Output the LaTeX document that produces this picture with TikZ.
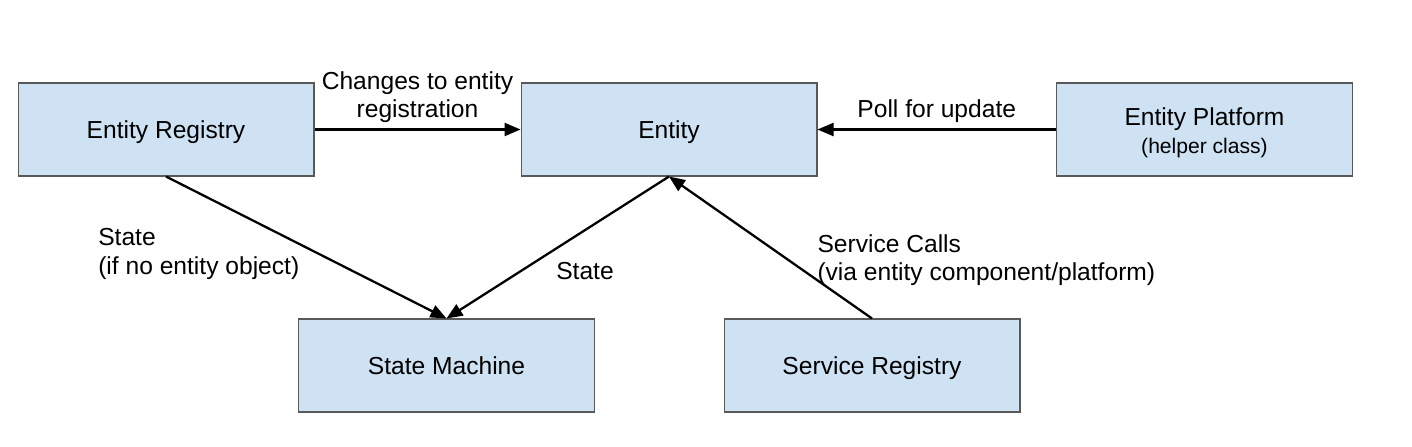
\documentclass[tikz,border=0pt]{standalone}
\usepackage{fontspec}
\setmainfont{Liberation Sans}
\usetikzlibrary{arrows.meta}
\definecolor{boxblue}{HTML}{CFE2F3}
\definecolor{boxline}{HTML}{595959}
\begin{document}
\begin{tikzpicture}[x=0.02cm, y=-0.02cm,
  box/.style={draw=boxline, line width=0.6pt, fill=boxblue, minimum width=5.92cm, minimum height=1.86cm, align=center, text height=10.8pt, text depth=0pt, font=\fontsize{14}{16}\selectfont},
  flow/.style={line width=1.3pt, -{Triangle[length=3.2mm,width=2.6mm]}},
  lbl/.style={font=\fontsize{14}{16}\selectfont}]
\useasboundingbox (0,0) rectangle (1412,446);
\node[box] (EntReg) at (166,129.5) {Entity Registry};
\node[box] (Ent) at (669,129.5) {Entity};
\node[box, text height=27.4pt, text depth=0pt] (EntPlat) at (1204.5,129.5) {Entity Platform\\{\fontsize{12}{14}\selectfont(helper class)}};
\node[box] (StateM) at (446.5,365.5) {State Machine};
\node[box] (ServReg) at (872,365.5) {Service Registry};
\draw[flow] (EntReg) -- (Ent) node[midway, above, lbl, align=center] (L_chg) {Changes to entity\\registration};
\draw[flow] (EntPlat) -- (Ent) node[midway, above, lbl] (L_poll) {Poll for update};
\draw[flow] (EntReg.south) -- (StateM.north) node[midway, left, lbl, align=left, yshift=-0.13cm] (L_reg) {State\\(if no entity object)};
\draw[flow] (Ent.south) -- (StateM.north) node[midway, below right, lbl, xshift=-0.17cm, yshift=-0.16cm] (L_state) {State};
\draw[flow] (ServReg.north) -- (Ent.south) node[midway, right, lbl, align=left, xshift=0.8cm, yshift=-0.26cm] (L_srv) {Service Calls\\(via entity component/platform)};
\end{tikzpicture}
\end{document}
